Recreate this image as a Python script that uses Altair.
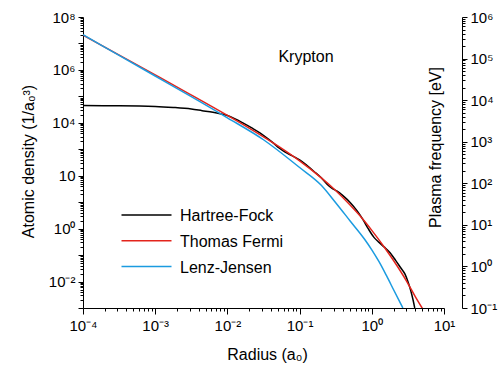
import altair as alt
import pandas as pd

# ---- data (log10 of radius in a0, log10 of density in 1/a0^3)
hf_logr = [-4.0, -3.5, -3.0, -2.75, -2.5, -2.35, -2.2, -2.1, -2.0, -1.9, -1.78, -1.65, -1.55,
           -1.45, -1.37, -1.28, -1.2, -1.1, -1.0, -0.9, -0.8, -0.7, -0.62, -0.55, -0.48, -0.4,
           -0.3, -0.2, -0.12, -0.05, 0.03, 0.1, 0.17, 0.25, 0.33, 0.4, 0.46, 0.5, 0.54, 0.57, 0.595]
hf_logn = [4.65, 4.645, 4.62, 4.58, 4.52, 4.46, 4.40, 4.345, 4.275, 4.16, 3.99, 3.79, 3.62,
           3.42, 3.25, 3.04, 2.89, 2.75, 2.60, 2.39, 2.16, 1.92, 1.68, 1.52, 1.42, 1.25,
           0.99, 0.66, 0.33, 0.0, -0.33, -0.52, -0.69, -0.90, -1.20, -1.48, -1.72, -2.0, -2.35, -2.68, -3.0]

tf_logr = [-4.0, -3.523, -3.0, -2.523, -2.0, -1.699, -1.301, -1.0, -0.699, -0.523, -0.301,
           -0.155, 0.0, 0.176, 0.301, 0.477, 0.602, 0.699]
tf_logn = [7.314, 6.598, 5.811, 5.088, 4.281, 3.799, 3.124, 2.559, 1.918, 1.497, 0.891,
           0.455, -0.067, -0.712, -1.205, -1.963, -2.569, -3.01]

lj_logr = [-4.0, -3.5, -3.0, -2.5, -2.0, -1.5, -1.0, -0.7, -0.5, -0.3, -0.1, 0.0, 0.1, 0.2, 0.3, 0.43]
lj_logn = [7.33, 6.55, 5.77, 4.99, 4.19, 3.36, 2.31, 1.64, 0.98, 0.29, -0.40, -0.80, -1.25, -1.76, -2.30, -3.0]

models = ["Hartree-Fock", "Thomas Fermi", "Lenz-Jensen"]
colors = ["#000000", "#e3241c", "#1b9be0"]

left_labels = [(8, "10⁸"), (6, "10⁶"), (4, "10⁴"), (2, "10"), (0, "10⁰"), (-2, "10⁻²")]
right_labels = [(6, "10⁶"), (5, "10⁵"), (4, "10⁴"), (3, "10³"), (2, "10²"), (1, "10¹"), (0, "10⁰"), (-1, "10⁻¹")]
bottom_labels = [(-4, "10⁻⁴"), (-3, "10⁻³"), (-2, "10⁻²"), (-1, "10⁻¹"), (0, "10⁰"), (1, "10¹")]

rows = []
for name, lr, ln in [(models[0], hf_logr, hf_logn), (models[1], tf_logr, tf_logn), (models[2], lj_logr, lj_logn)]:
    for a, b in zip(lr, ln):
        rows.append({"r": 10 ** a, "n": 10 ** b, "model": name})
df = pd.DataFrame(rows)
legend_df = pd.DataFrame({"model": models, "row": [0, 1, 2]})

FONT = "Liberation Sans"


def log_ticks(lo, hi):
    return [m * 10.0 ** k for k in range(lo, hi) for m in range(1, 10)] + [10.0 ** hi]


def label_expr(labels):
    expr = "''"
    for e, s in labels:
        expr = f"abs(log(datum.value)/LN10 - ({e})) < 0.01 ? '{s}' : " + expr
    return expr


major_test = "abs(log(datum.value)/LN10 - round(log(datum.value)/LN10)) < 0.001"


def tick_size(major, minor):
    return {"condition": {"test": major_test, "value": major}, "value": minor}


common_axis = dict(grid=False, domainColor="black", tickColor="black", labelColor="black",
                   titleColor="black", labelFont=FONT, titleFont=FONT, labelFontSize=15,
                   titleFontSize=16, titleFontWeight="normal", labelOverlap=False,
                   labelFlush=False, domainWidth=1, tickWidth=1)

xscale = alt.Scale(type="log", domain=[1e-4, 10], nice=False)
yscale = alt.Scale(type="log", domain=[1e-3, 1e8], nice=False)
cscale = alt.Scale(domain=models, range=colors)

x_axis = alt.Axis(values=log_ticks(-4, 1), labelExpr=label_expr(bottom_labels),
                  tickSize=tick_size(6, 3), labelPadding=4, title="Radius (a₀)",
                  titleX=184, titleY=46, titleBaseline="middle", titleAlign="center",
                  **common_axis)
y_axis = alt.Axis(values=log_ticks(-3, 8), labelExpr=label_expr(left_labels),
                  tickSize=tick_size(5, 3), labelPadding=3, title="Atomic density (1/a₀³)",
                  titleX=-55, titleY=144, titleAngle=270, titleBaseline="middle",
                  titleAlign="center", **common_axis)

color = alt.Color("model:N", scale=cscale, legend=None)

layers = []
for m in models:
    layers.append(
        alt.Chart(df).transform_filter(alt.datum.model == m)
        .mark_line(clip=True, strokeWidth=1.5, interpolate="monotone")
        .encode(x=alt.X("r:Q", scale=xscale, axis=x_axis),
                y=alt.Y("n:Q", scale=yscale, axis=y_axis),
                color=color)
    )

main = alt.layer(*layers)

# right axis: plasma frequency (eV)
pf_df = pd.DataFrame({"r": [1e-4, 10.0], "pf": [0.1, 1e6]})
right = alt.Chart(pf_df).mark_point(opacity=0).encode(
    x=alt.X("r:Q", scale=xscale, axis=x_axis),
    y=alt.Y("pf:Q", scale=alt.Scale(type="log", domain=[0.1, 1e6], nice=False),
            axis=alt.Axis(orient="right", offset=18, values=log_ticks(-1, 6),
                          labelExpr=label_expr(right_labels), tickSize=tick_size(5, 3),
                          labelPadding=3, title="Plasma frequency [eV]", titleX=-27,
                          titleY=130, titleAngle=270, titleBaseline="middle",
                          titleAlign="center", **common_axis)),
)

# legend drawn as its own small layer
leg_y = alt.Y("row:Q", scale=alt.Scale(domain=[0, 2], range=[198, 249.5]), axis=None)
leg_lines = alt.Chart(legend_df).mark_rule(strokeWidth=1.5).encode(
    x=alt.value(38.5), x2=alt.value(88.5), y=leg_y, color=color)
leg_text = alt.Chart(legend_df).mark_text(
    font=FONT, fontSize=16, color="black", align="left", baseline="middle", dy=1
).encode(x=alt.value(97), y=leg_y, text="model:N")
legend = alt.layer(leg_lines, leg_text)

label = alt.Chart(alt.Data(values=[{"t": "Krypton"}])).mark_text(
    font=FONT, fontSize=16, color="black", align="center", baseline="middle"
).encode(x=alt.value(223), y=alt.value(40), text="t:N")

chart = alt.layer(main, right, legend, label).resolve_scale(y="independent").properties(
    width=361, height=291,
    padding={"left": 83, "top": 17, "right": 56, "bottom": 58},
    autosize=alt.AutoSizeParams(type="none"),
    background="white",
).configure_view(stroke=None)

chart.save("out.html", embed_options={"renderer": "svg", "actions": False})
